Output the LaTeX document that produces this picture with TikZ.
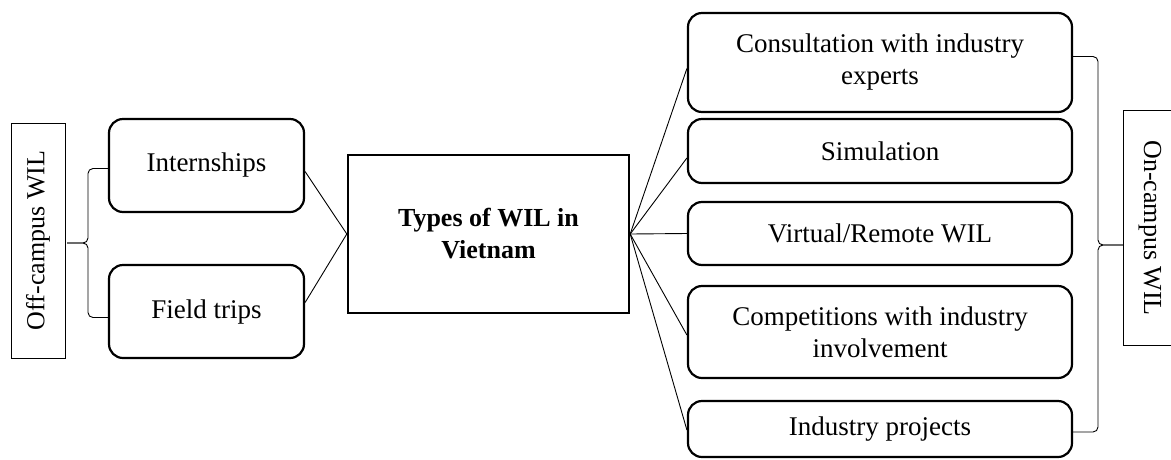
\documentclass[tikz,border=0pt]{standalone}
\usepackage{fontspec}
\setmainfont{Liberation Serif}
\begin{document}
\begin{tikzpicture}[x=1pt,y=-1pt,
  txt/.style={font=\fontsize{27}{32}\selectfont},
  rbox/.style={txt, draw, line width=2.2pt, rounded corners=14pt, align=center, inner sep=0pt},
  lbox/.style={rbox, minimum width=195pt},
  rgbox/.style={rbox, minimum width=384pt},
  sidebox/.style={draw, line width=0.9pt, inner sep=0pt, minimum width=235pt, font=\fontsize{26}{32}\selectfont},
  cbox/.style={draw, line width=2.4pt, align=center, inner sep=0pt, minimum width=281pt, minimum height=158pt, font=\fontsize{26}{32}\selectfont\bfseries},
  link/.style={line width=0.9pt},
  brace/.style={line width=0.9pt, rounded corners=5pt}
]
\useasboundingbox (0,0) rectangle (1171,459);
\clip (0,0) rectangle (1171,459);

\node[sidebox, rotate=90, minimum height=54pt] (off) at (38,240.5) {Off-campus WIL};
\node[lbox, minimum height=93pt] (int) at (206.5,165.5) {Internships};
\node[lbox, minimum height=93pt] (ft) at (206.5,311.5) {Field trips};
\node[cbox] (c) at (488.5,234) {Types of WIL in\\Vietnam};

\node[rgbox, minimum height=99pt] (cons) at (880,62.5) {Consultation with industry\\experts};
\node[rgbox, minimum height=64pt] (sim) at (880,151) {Simulation};
\node[rgbox, minimum height=63pt] (vir) at (880,233.5) {Virtual/Remote WIL};
\node[rgbox, minimum height=92pt] (comp) at (880,332) {Competitions with industry\\involvement};
\node[rgbox, minimum height=56pt] (ind) at (880,429) {Industry projects};
\node[sidebox, rotate=-90, minimum height=54pt] (on) at (1150,228) {On-campus WIL};

% connectors left
\draw[link] ([yshift=-6pt]int.east) -- (c.west);
\draw[link] ([yshift=9pt]ft.east) -- (c.west);
% connectors right
\draw[link] (c.east) -- ([yshift=-6pt]cons.west);
\draw[link] (c.east) -- ([yshift=-7pt]sim.west);
\draw[link] (c.east) -- (vir.west);
\draw[link] (c.east) -- ([yshift=-3pt]comp.west);
\draw[link] (c.east) -- ([yshift=-1pt]ind.west);

% braces
\coordinate (lt) at (67,243);
\draw[brace] ([yshift=-3pt]int.west) -| ([xshift=21pt]lt) -- (lt);
\draw[brace] ([yshift=-6pt]ft.west) -| ([xshift=21pt]lt) -- (lt);
\coordinate (rt) at (1123,245);
\draw[brace] ([yshift=6pt]cons.east) -| ([xshift=-25pt]rt) -- (rt);
\draw[brace] ([yshift=-3pt]ind.east) -| ([xshift=-25pt]rt) -- (rt);
\end{tikzpicture}
\end{document}
